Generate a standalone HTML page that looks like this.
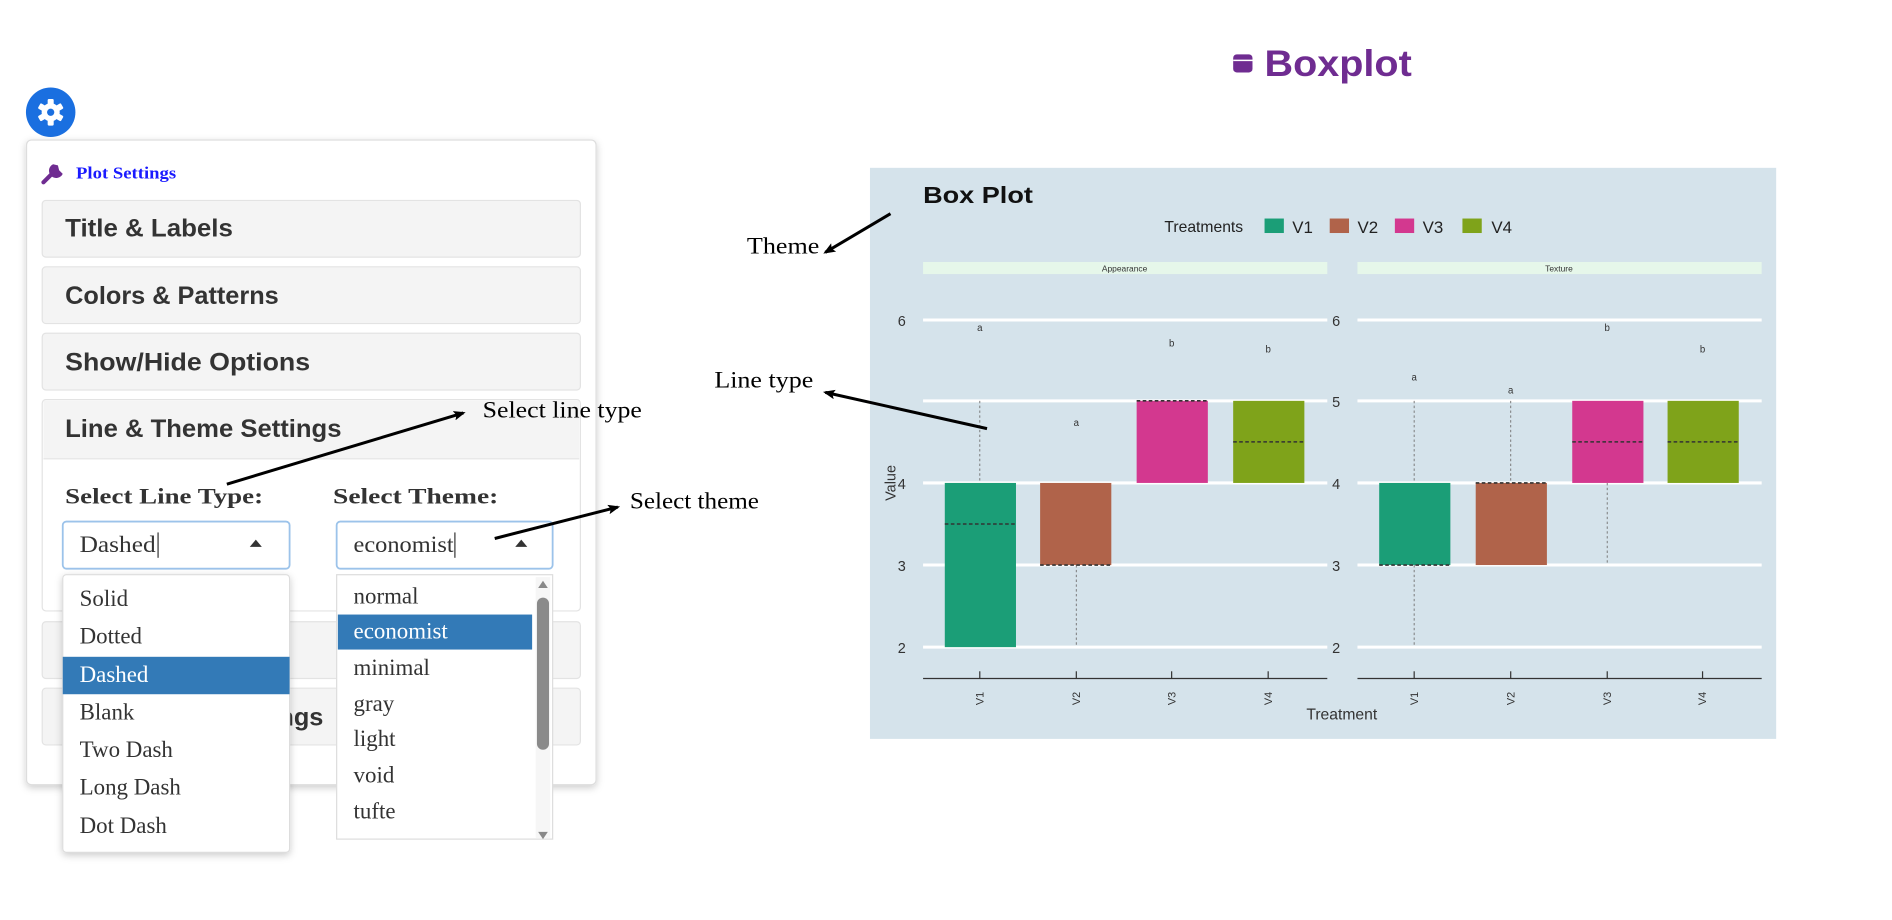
<!DOCTYPE html>
<html><head><meta charset="utf-8"><style>
html,body{margin:0;padding:0;background:#fff;width:1892px;height:920px;overflow:hidden}
svg{display:block}
.sans{font-family:"Liberation Sans",sans-serif}
.ser{font-family:"Liberation Serif",serif}
</style></head><body>
<svg width="1892" height="920" viewBox="0 0 1568 762" preserveAspectRatio="none" xmlns="http://www.w3.org/2000/svg">
<defs>
<marker id="ah" markerWidth="10" markerHeight="8" refX="8" refY="4" orient="auto" markerUnits="userSpaceOnUse">
<path d="M0,0 L10,4 L0,8 L2,4 Z" fill="#000"/></marker>
<filter id="sh" x="-10%" y="-10%" width="120%" height="120%"><feDropShadow dx="0" dy="2" stdDeviation="3" flood-opacity="0.2"/></filter>
</defs>
<rect width="1568" height="762" fill="#fff"/>

<!-- gear -->
<circle cx="42" cy="93" r="20.5" fill="#1a6fe0"/>
<g fill="#fff" transform="translate(42,93)">
<circle r="7.5"/>
<g><rect x="-2.5" y="-11" width="5" height="22" rx="1"/><rect x="-2.5" y="-11" width="5" height="22" rx="1" transform="rotate(60)"/><rect x="-2.5" y="-11" width="5" height="22" rx="1" transform="rotate(120)"/></g>
<circle r="3" fill="#1a6fe0"/></g>

<!-- panel -->
<rect x="22" y="116" width="472" height="534" rx="4" fill="#fff" stroke="#ddd" filter="url(#sh)"/>
<path d="M36,151 L46,141" stroke="#6f2c91" stroke-width="3.5" stroke-linecap="round"/>
<path d="M44,136 a6,6 0 1 0 8,8 l-3,-3 l-1,-4 z" fill="#6f2c91"/>
<text x="63" y="148" class="ser" font-size="14" font-weight="bold" fill="#1a1aff" textLength="83" lengthAdjust="spacingAndGlyphs">Plot Settings</text>

<g class="sans" font-size="21" font-weight="bold" fill="#333">
<rect x="35" y="166" width="446" height="47" rx="3" fill="#f4f4f4" stroke="#e3e3e3"/>
<text x="54" y="196" textLength="139" lengthAdjust="spacingAndGlyphs">Title &amp; Labels</text>
<rect x="35" y="221" width="446" height="47" rx="3" fill="#f4f4f4" stroke="#e3e3e3"/>
<text x="54" y="252" textLength="177" lengthAdjust="spacingAndGlyphs">Colors &amp; Patterns</text>
<rect x="35" y="276" width="446" height="47" rx="3" fill="#f4f4f4" stroke="#e3e3e3"/>
<text x="54" y="307" textLength="203" lengthAdjust="spacingAndGlyphs">Show/Hide Options</text>
<rect x="35" y="331" width="446" height="175" rx="3" fill="#fff" stroke="#e3e3e3"/>
<rect x="36" y="332" width="444" height="48" fill="#f4f4f4"/>
<line x1="36" y1="380" x2="480" y2="380" stroke="#e3e3e3"/>
<text x="54" y="362" textLength="229" lengthAdjust="spacingAndGlyphs">Line &amp; Theme Settings</text>
<rect x="35" y="515" width="446" height="47" rx="3" fill="#f4f4f4" stroke="#e3e3e3"/>
<rect x="35" y="570" width="446" height="47" rx="3" fill="#f4f4f4" stroke="#e3e3e3"/>
<text x="268" y="601" text-anchor="end">Plot Size Settings</text>
</g>

<g class="ser" font-size="18" font-weight="bold" fill="#333">
<text x="54" y="417" textLength="164" lengthAdjust="spacingAndGlyphs">Select Line Type:</text>
<text x="276" y="417" textLength="137" lengthAdjust="spacingAndGlyphs">Select Theme:</text>
</g>
<rect x="52" y="432" width="188" height="39" rx="3" fill="#fff" stroke="#9cc3ea" stroke-width="1.5"/>
<text x="66" y="457" class="ser" font-size="19" fill="#333" textLength="63" lengthAdjust="spacingAndGlyphs">Dashed</text>
<line x1="131" y1="441" x2="131" y2="462" stroke="#333"/>
<path d="M207,453 L217,453 L212,447 Z" fill="#333"/>
<rect x="279" y="432" width="179" height="39" rx="3" fill="#fff" stroke="#9cc3ea" stroke-width="1.5"/>
<text x="293" y="457" class="ser" font-size="19" fill="#333" textLength="83" lengthAdjust="spacingAndGlyphs">economist</text>
<line x1="377" y1="441" x2="377" y2="462" stroke="#333"/>
<path d="M427,453 L437,453 L432,447 Z" fill="#333"/>

<!-- dropdown 1 -->
<rect x="52" y="476" width="188" height="230" rx="3" fill="#fff" stroke="#ddd" filter="url(#sh)"/>
<rect x="52" y="544" width="188" height="31" fill="#337ab7"/>
<g class="ser" font-size="19" fill="#333">
<text x="66" y="502">Solid</text><text x="66" y="533">Dotted</text>
<text x="66" y="565" fill="#fff">Dashed</text><text x="66" y="596">Blank</text>
<text x="66" y="627">Two Dash</text><text x="66" y="658">Long Dash</text><text x="66" y="690">Dot Dash</text>
</g>
<!-- dropdown 2 -->
<rect x="279" y="476" width="179" height="219" fill="#fff" stroke="#ddd"/>
<rect x="280" y="509" width="161" height="29" fill="#337ab7"/>
<g class="ser" font-size="19" fill="#333">
<text x="293" y="500">normal</text><text x="293" y="529" fill="#fff">economist</text>
<text x="293" y="559">minimal</text><text x="293" y="589">gray</text>
<text x="293" y="618">light</text><text x="293" y="648">void</text><text x="293" y="678">tufte</text>
</g>
<rect x="444" y="478" width="12" height="216" fill="#f6f6f6"/>
<path d="M446,487 L454,487 L450,481 Z" fill="#888"/>
<path d="M446,689 L454,689 L450,695 Z" fill="#888"/>
<rect x="445" y="495" width="10" height="126" rx="5" fill="#8a8a8a"/>

<!-- Boxplot title -->
<rect x="1022" y="45" width="16" height="15" rx="3" fill="#6f2c91"/>
<line x1="1022" y1="50" x2="1038" y2="50" stroke="#fff" stroke-width="1.2"/>
<text x="1048" y="63" class="sans" font-size="31" font-weight="bold" fill="#6f2c91" textLength="122" lengthAdjust="spacingAndGlyphs">Boxplot</text>

<!-- plot -->
<rect x="721" y="139" width="751" height="473" fill="#d5e3eb"/>
<text x="765" y="168" class="sans" font-size="19" font-weight="bold" fill="#111" textLength="91" lengthAdjust="spacingAndGlyphs">Box Plot</text>
<g class="sans" font-size="13" fill="#222">
<text x="965" y="192">Treatments</text>
<rect x="1048" y="181" width="16" height="12" fill="#1b9e77"/><text x="1071" y="193" font-size="14">V1</text>
<rect x="1102" y="181" width="16" height="12" fill="#b0634a"/><text x="1125" y="193" font-size="14">V2</text>
<rect x="1156" y="181" width="16" height="12" fill="#d3388f"/><text x="1179" y="193" font-size="14">V3</text>
<rect x="1212" y="181" width="16" height="12" fill="#7fa31a"/><text x="1236" y="193" font-size="14">V4</text>
</g>
<rect x="765" y="217" width="335" height="10" fill="#e6f7ea"/>
<rect x="1125" y="217" width="335" height="10" fill="#e6f7ea"/>
<g class="sans" font-size="7" fill="#333" text-anchor="middle">
<text x="932" y="225">Appearance</text><text x="1292" y="225">Texture</text>
</g>
<g stroke="#fff" stroke-width="2.5">
<line x1="765" y1="265" x2="1100" y2="265"/><line x1="765" y1="332" x2="1100" y2="332"/>
<line x1="765" y1="400" x2="1100" y2="400"/><line x1="765" y1="468" x2="1100" y2="468"/>
<line x1="765" y1="536" x2="1100" y2="536"/>
<line x1="1125" y1="265" x2="1460" y2="265"/><line x1="1125" y1="332" x2="1460" y2="332"/>
<line x1="1125" y1="400" x2="1460" y2="400"/><line x1="1125" y1="468" x2="1460" y2="468"/>
<line x1="1125" y1="536" x2="1460" y2="536"/>
</g>
<g class="sans" font-size="12" fill="#333">
<text x="744" y="270">6</text><text x="744" y="405">4</text><text x="744" y="473">3</text><text x="744" y="541">2</text>
<text x="1104" y="270">6</text><text x="1104" y="337">5</text><text x="1104" y="405">4</text><text x="1104" y="473">3</text><text x="1104" y="541">2</text>
</g>
<text transform="translate(742,400) rotate(-90)" text-anchor="middle" class="sans" font-size="12" fill="#333">Value</text>
<g stroke="#777" stroke-width="0.8" stroke-dasharray="2,2">
<line x1="812" y1="332" x2="812" y2="400"/><line x1="892" y1="468" x2="892" y2="536"/>
<line x1="1172" y1="332" x2="1172" y2="400"/><line x1="1172" y1="468" x2="1172" y2="536"/>
<line x1="1252" y1="332" x2="1252" y2="400"/><line x1="1332" y1="400" x2="1332" y2="468"/>
</g>
<rect x="783" y="400" width="59" height="136" fill="#1b9e77"/>
<rect x="862" y="400" width="59" height="68" fill="#b0634a"/>
<rect x="942" y="332" width="59" height="68" fill="#d3388f"/>
<rect x="1022" y="332" width="59" height="68" fill="#7fa31a"/>
<rect x="1143" y="400" width="59" height="68" fill="#1b9e77"/>
<rect x="1223" y="400" width="59" height="68" fill="#b0634a"/>
<rect x="1303" y="332" width="59" height="68" fill="#d3388f"/>
<rect x="1382" y="332" width="59" height="68" fill="#7fa31a"/>
<g stroke="#333" stroke-width="1.3" stroke-dasharray="3,2">
<line x1="783" y1="434" x2="842" y2="434"/><line x1="862" y1="468" x2="921" y2="468"/>
<line x1="942" y1="332" x2="1001" y2="332"/><line x1="1022" y1="366" x2="1081" y2="366"/>
<line x1="1143" y1="468" x2="1202" y2="468"/><line x1="1223" y1="400" x2="1282" y2="400"/>
<line x1="1303" y1="366" x2="1362" y2="366"/><line x1="1382" y1="366" x2="1441" y2="366"/>
</g>
<g class="sans" font-size="8" fill="#333" text-anchor="middle">
<text x="812" y="274">a</text><text x="892" y="353">a</text><text x="971" y="287">b</text><text x="1051" y="292">b</text>
<text x="1172" y="315">a</text><text x="1252" y="326">a</text><text x="1332" y="274">b</text><text x="1411" y="292">b</text>
</g>
<g stroke="#333" stroke-width="1">
<line x1="765" y1="562" x2="1100" y2="562"/><line x1="1125" y1="562" x2="1460" y2="562"/>
<line x1="812" y1="556" x2="812" y2="562"/><line x1="892" y1="556" x2="892" y2="562"/>
<line x1="971" y1="556" x2="971" y2="562"/><line x1="1051" y1="556" x2="1051" y2="562"/>
<line x1="1172" y1="556" x2="1172" y2="562"/><line x1="1252" y1="556" x2="1252" y2="562"/>
<line x1="1332" y1="556" x2="1332" y2="562"/><line x1="1411" y1="556" x2="1411" y2="562"/>
</g>
<g class="sans" font-size="9" fill="#333">
<text transform="translate(815,584) rotate(-90)">V1</text><text transform="translate(895,584) rotate(-90)">V2</text>
<text transform="translate(974,584) rotate(-90)">V3</text><text transform="translate(1054,584) rotate(-90)">V4</text>
<text transform="translate(1175,584) rotate(-90)">V1</text><text transform="translate(1255,584) rotate(-90)">V2</text>
<text transform="translate(1335,584) rotate(-90)">V3</text><text transform="translate(1414,584) rotate(-90)">V4</text>
</g>
<text x="1112" y="596" text-anchor="middle" class="sans" font-size="13" fill="#333">Treatment</text>

<!-- annotations (on top) -->
<g class="ser" font-size="19" fill="#000">
<text x="400" y="346" textLength="132" lengthAdjust="spacingAndGlyphs">Select line type</text>
<text x="522" y="421" textLength="107" lengthAdjust="spacingAndGlyphs">Select theme</text>
<text x="619" y="210" textLength="60" lengthAdjust="spacingAndGlyphs">Theme</text>
<text x="592" y="321" textLength="82" lengthAdjust="spacingAndGlyphs">Line type</text>
</g>
<g stroke="#000" stroke-width="2.5" fill="none" marker-end="url(#ah)">
<line x1="188" y1="401" x2="384" y2="342"/>
<line x1="410" y1="446" x2="512" y2="420"/>
<line x1="738" y1="177" x2="684" y2="209"/>
<line x1="818" y1="355" x2="684" y2="325"/>
</g>
</svg>
</body></html>
